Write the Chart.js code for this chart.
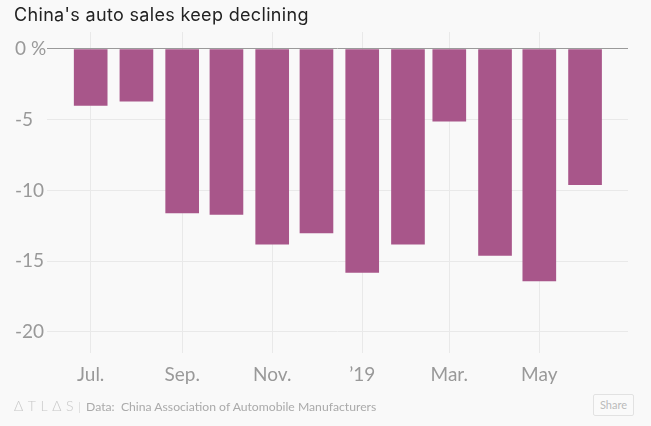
<!DOCTYPE html>
<html>
<head>
<meta charset="utf-8">
<script src="https://cdn.jsdelivr.net/npm/chart.js@4"></script>
<style>
  html, body { margin: 0; padding: 0; background: #f9f9f9; }
  #wrap { position: relative; width: 651px; height: 426px; overflow: hidden; font-family: Lato, "Open Sans", sans-serif; }
  #title { position: absolute; left: 14px; top: 4px; font-family: Inter, Lato, sans-serif; font-size: 18px; letter-spacing: 0.33px; color: #222; white-space: nowrap; }
  #chart { position: absolute; left: 0; top: 0; }
  #footer { position: absolute; left: 14px; top: 397px; font-size: 12.2px; color: #aaa; white-space: nowrap; }
  #logo { letter-spacing: 4.6px; color: #c8c8c8; font-size: 14px; font-weight: 300; }
  #sep { color: #ddd; margin: 0 5px 0 0; }
  #share { position: absolute; left: 593px; top: 394px; width: 39px; height: 20px; border: 1px solid #e2e2e2; border-radius: 2px; font-size: 11px; color: #bbb; text-align: center; line-height: 20px; background: #fafafa; }
</style>
</head>
<body>
<div id="wrap">
  <canvas id="chart" width="651" height="426"></canvas>
  <div id="title">China's auto sales keep declining</div>
  <div id="footer"><span id="logo">ΔTLΔS</span><span id="sep">|</span>Data:&nbsp; China Association of Automobile Manufacturers</div>
  <div id="share">Share</div>
</div>
<script>
// Months (first day of each month): Jul 2018 .. Jun 2019
const categories = ['2018-07-01', '2018-08-01', '2018-09-01', '2018-10-01', '2018-11-01', '2018-12-01',
                    '2019-01-01', '2019-02-01', '2019-03-01', '2019-04-01', '2019-05-01', '2019-06-01'];
// Year-over-year change in auto sales, %
const salesChange = [-4.0, -3.7, -11.6, -11.7, -13.8, -13.0, -15.8, -13.8, -5.1, -14.6, -16.4, -9.6];
// x tick labels (blank = no tick)
const xTickLabels = ['Jul.', '', 'Sep.', '', 'Nov.', '', '\u201919', '', 'Mar.', '', 'May', ''];
// y tick values
const yTickValues = [0, -5, -10, -15, -20];

const FONT = 'Lato, "Open Sans", sans-serif';
const DAY = 86400000;
const origin = Date.parse(categories[0]);
// days since first month (time-proportional axis)
const dayPos = categories.map(d => (Date.parse(d) - origin) / DAY);

new Chart(document.getElementById('chart'), {
  type: 'bar',
  data: {
    datasets: [{
      label: 'Auto sales change',
      data: salesChange.map((v, i) => ({ x: dayPos[i], y: v })),
      backgroundColor: '#a8568a',
      borderWidth: 0,
      barThickness: 33
    }]
  },
  options: {
    responsive: false,
    animation: false,
    events: [],
    layout: { padding: { top: 32, left: 15, right: 23, bottom: 39 } },
    plugins: { legend: { display: false }, tooltip: { enabled: false }, title: { display: false } },
    scales: {
      x: {
        type: 'linear',
        offset: false,
        min: -29.6,
        max: 364.1,
        afterBuildTicks: (scale) => {
          scale.ticks = xTickLabels.map((l, i) => ({ value: dayPos[i], label: l })).filter(t => t.label !== '');
        },
        afterFit: (scale) => { scale.height = 34; },
        ticks: {
          autoSkip: false,
          maxRotation: 0,
          padding: 10,
          color: '#999',
          font: { family: FONT, size: 19 },
          callback: (value) => xTickLabels[dayPos.indexOf(value)]
        },
        grid: { offset: false, color: '#e9e9e9', lineWidth: 1, drawTicks: false },
        border: { display: false }
      },
      y: {
        min: -21.5,
        max: 1.2,
        afterBuildTicks: (scale) => {
          scale.ticks = yTickValues.map(v => ({ value: v }));
        },
        afterFit: (scale) => { scale.width = 32; },
        ticks: {
          crossAlign: 'far',
          padding: 0,
          color: '#999',
          font: { family: FONT, size: 19 },
          callback: (value) => value === 0 ? '0 %' : String(value)
        },
        grid: {
          drawTicks: false,
          color: (ctx) => (ctx.tick && ctx.tick.value === 0) ? '#9a9a9a' : '#e9e9e9',
          lineWidth: 1
        },
        border: { display: false }
      }
    }
  }
});
</script>
</body>
</html>
